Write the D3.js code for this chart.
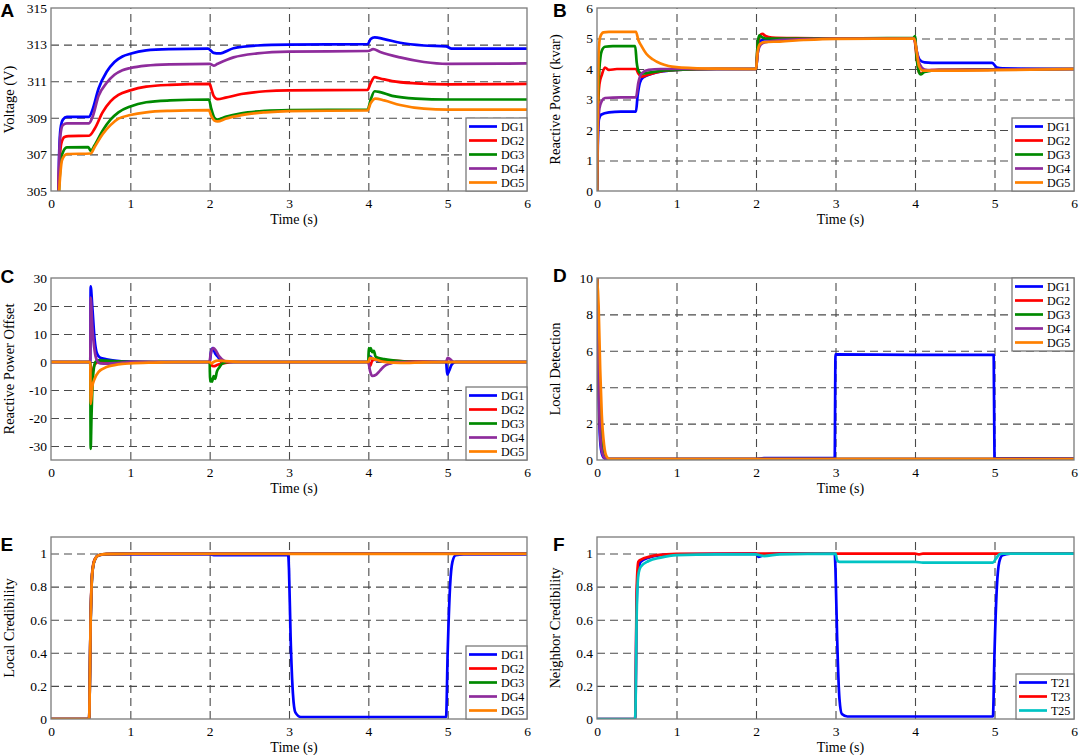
<!DOCTYPE html>
<html>
<head>
<meta charset="utf-8">
<script src="https://cdn.jsdelivr.net/npm/d3@7"></script>
<style>
  body { margin: 0; background: #fff; }
  svg { display: block; }
  text { font-family: "Liberation Serif", "Times New Roman", serif; fill: #000; }
  .letter { font-family: "Liberation Sans", Arial, sans-serif; font-weight: bold; font-size: 19px; }
</style>
</head>
<body>
<div id="chart"></div>
<script>
// ---- data (time in s) ----
const timeTicks = [0, 1, 2, 3, 4, 5, 6];
const voltTicks = [305, 307, 309, 311, 313, 315];
const qTicks = [0, 1, 2, 3, 4, 5, 6];
const offTicks = [-30, -20, -10, 0, 10, 20, 30];
const detTicks = [0, 2, 4, 6, 8, 10];
const credTicks = [0, 0.2, 0.4, 0.6, 0.8, 1];

const dgNames = ['DG1', 'DG2', 'DG3', 'DG4', 'DG5'];
const nbNames = ['T21', 'T23', 'T25'];
const dgColors = ['#0000ff', '#ff0000', '#008a00', '#8e2c9c', '#ff8000'];
const nbColors = ['#0000ff', '#ff0000', '#00c4c4'];

// A: voltage
const voltDG1 = [[0.09,304],[0.1,306.5],[0.12,308.4],[0.15,308.9],[0.2,309.05],[0.48,309.05],[0.52,309.4],[0.6,310.6],[0.7,311.5],[0.8,312.05],[0.9,312.35],[1.0,312.5],[1.2,312.68],[1.5,312.75],[1.98,312.78],[2.05,312.55],[2.12,312.52],[2.3,312.8],[2.6,312.95],[3.0,313.0],[3.99,313.02],[4.03,313.3],[4.08,313.4],[4.2,313.3],[4.4,313.1],[4.7,312.95],[4.98,312.9],[5.05,312.78],[6,312.78]];
const voltDG2 = [[0.09,304],[0.1,305.8],[0.13,307.6],[0.17,307.95],[0.22,308.0],[0.48,308.02],[0.55,308.4],[0.65,309.3],[0.75,309.9],[0.85,310.25],[1.0,310.5],[1.2,310.7],[1.5,310.8],[2.0,310.85],[2.02,310.6],[2.05,310.2],[2.1,310.02],[2.2,310.1],[2.4,310.3],[2.7,310.45],[3.0,310.5],[3.99,310.52],[4.03,310.9],[4.08,311.22],[4.15,311.15],[4.3,311.0],[4.6,310.88],[5.0,310.83],[6,310.85]];
const voltDG3 = [[0.09,304],[0.11,305.8],[0.14,307.0],[0.2,307.38],[0.47,307.4],[0.5,307.2],[0.55,307.5],[0.65,308.3],[0.75,308.9],[0.85,309.3],[1.0,309.62],[1.2,309.85],[1.5,309.95],[1.99,310.0],[2.02,309.5],[2.06,309.0],[2.1,308.9],[2.2,309.05],[2.4,309.25],[2.7,309.38],[3.0,309.42],[3.99,309.45],[4.03,310.0],[4.08,310.45],[4.15,310.4],[4.3,310.2],[4.6,310.05],[5.0,310.0],[6,310.0]];
const voltDG4 = [[0.09,304],[0.1,306.3],[0.12,308.1],[0.15,308.6],[0.2,308.7],[0.48,308.7],[0.52,309.0],[0.6,310.2],[0.7,310.9],[0.8,311.35],[0.9,311.6],[1.0,311.72],[1.2,311.85],[1.5,311.92],[2.0,311.95],[2.05,311.85],[2.1,311.95],[2.3,312.3],[2.6,312.52],[3.0,312.62],[4.0,312.65],[4.06,312.75],[4.15,312.6],[4.4,312.3],[4.7,312.05],[5.0,311.95],[6,311.97]];
const voltDG5 = [[0.09,304],[0.11,305.5],[0.14,306.7],[0.2,307.02],[0.5,307.05],[0.55,307.4],[0.65,308.1],[0.75,308.6],[0.85,308.95],[1.0,309.15],[1.2,309.3],[1.5,309.38],[1.99,309.42],[2.02,309.1],[2.06,308.85],[2.1,308.8],[2.2,308.95],[2.4,309.15],[2.7,309.3],[3.0,309.37],[3.99,309.4],[4.03,309.8],[4.09,310.05],[4.2,309.95],[4.4,309.7],[4.7,309.5],[5.0,309.45],[6,309.45]];

// B: reactive power (kvar)
const qDG1 = [[0,0],[0.01,1.5],[0.025,2.35],[0.05,2.5],[0.15,2.58],[0.3,2.6],[0.49,2.6],[0.51,3.1],[0.54,3.55],[0.58,3.72],[0.7,3.85],[0.85,3.93],[1.0,3.97],[1.5,4.0],[2.0,4.0],[2.02,4.5],[2.05,4.9],[2.1,4.97],[2.3,4.99],[3.0,5.0],[3.99,5.0],[4.02,4.6],[4.06,4.3],[4.12,4.22],[4.3,4.2],[4.97,4.2],[5.03,4.05],[5.1,4.02],[6,4.0]];
const qDG2 = [[0,0],[0.01,2.5],[0.03,3.5],[0.06,3.8],[0.1,4.05],[0.15,3.97],[0.25,4.0],[0.49,4.0],[0.52,3.85],[0.56,3.75],[0.65,3.82],[0.8,3.92],[1.0,3.97],[1.5,4.0],[2.0,4.0],[2.02,4.7],[2.05,5.1],[2.08,5.15],[2.12,5.08],[2.2,5.03],[2.5,5.01],[3,5.0],[3.99,5.0],[4.02,4.4],[4.05,3.9],[4.08,3.85],[4.12,3.93],[4.3,3.97],[5,3.98],[6,4.0]];
const qDG3 = [[0,0],[0.01,2.5],[0.03,4.0],[0.06,4.6],[0.1,4.73],[0.2,4.75],[0.48,4.75],[0.5,4.2],[0.52,3.95],[0.56,3.85],[0.7,3.9],[0.85,3.95],[1.0,3.97],[1.5,4.0],[2.0,4.0],[2.02,4.8],[2.04,5.1],[2.07,5.05],[2.12,5.0],[3,5.0],[3.98,5.02],[4.0,5.08],[4.02,4.4],[4.05,3.9],[4.07,3.82],[4.12,3.9],[4.3,3.96],[5,3.98],[6,4.0]];
const qDG4 = [[0,0],[0.01,1.8],[0.03,2.7],[0.06,2.95],[0.1,3.05],[0.3,3.07],[0.49,3.07],[0.52,3.55],[0.56,3.85],[0.65,3.97],[0.8,4.0],[1.0,4.0],[2.0,4.0],[2.02,4.5],[2.06,4.8],[2.12,4.88],[2.3,4.95],[2.6,4.98],[3,5.0],[3.99,5.0],[4.02,4.6],[4.06,4.15],[4.12,3.98],[4.2,3.96],[5,3.98],[6,4.0]];
const qDG5 = [[0,0],[0.01,2.5],[0.02,4.5],[0.04,5.05],[0.08,5.2],[0.15,5.22],[0.49,5.22],[0.52,4.95],[0.56,4.75],[0.62,4.5],[0.7,4.32],[0.8,4.18],[0.9,4.1],[1.0,4.06],[1.2,4.03],[1.5,4.01],[2.0,4.0],[2.02,4.55],[2.05,4.82],[2.1,4.88],[2.3,4.9],[2.6,4.95],[3,4.99],[3.99,5.0],[4.02,4.6],[4.05,4.1],[4.1,3.95],[4.5,3.95],[5,3.96],[6,4.0]];

// C: reactive power offset
const offDG1 = [[0,0],[0.495,0],[0.5,27],[0.52,20],[0.55,8],[0.58,3],[0.62,1.5],[0.7,1],[0.8,0.5],[1.0,0.1],[1.3,0],[2.0,0],[2.02,4],[2.04,5],[2.07,3],[2.1,2],[2.14,0.5],[2.2,0],[4.0,0],[4.02,2],[4.06,1],[4.12,0.5],[4.3,0],[4.98,0],[4.995,-4.5],[5.02,-3],[5.05,-1],[5.1,0],[6,0]];
const offDG2 = [[0,0],[0.495,0],[0.5,-6],[0.52,-4],[0.55,-1],[0.6,0],[2.0,0],[2.02,-1],[2.05,-1.5],[2.1,-1],[2.2,-0.3],[2.3,0],[4.0,0],[4.02,-1.5],[4.05,0.5],[4.1,1],[4.3,0.5],[4.6,0.1],[5,0],[6,0]];
const offDG3 = [[0,0],[0.495,0],[0.5,-31],[0.51,-20],[0.53,-5],[0.56,0],[0.6,0.6],[0.7,0.5],[0.85,0.2],[1.0,0],[2.0,0],[2.005,-7],[2.02,-6],[2.03,-7],[2.05,-5],[2.07,-6],[2.09,-3.5],[2.12,-2],[2.16,-0.5],[2.25,0],[4.0,0],[4.005,5],[4.02,4],[4.03,5],[4.05,3.5],[4.07,4],[4.09,2],[4.12,1.5],[4.2,1],[4.4,0.3],[4.6,0],[6,0]];
const offDG4 = [[0,0],[0.495,0],[0.5,23],[0.52,13],[0.55,4],[0.58,0.5],[0.62,-0.5],[0.7,-0.6],[0.85,-0.3],[1.0,0],[2.0,0],[2.01,2.5],[2.03,4.5],[2.05,5],[2.08,4],[2.12,2],[2.18,0.5],[2.25,0],[4.0,0],[4.02,-3],[4.05,-5],[4.1,-4.5],[4.15,-3],[4.2,-1.5],[4.28,-0.5],[4.35,0],[4.98,0],[5.0,1.5],[5.03,1],[5.08,0],[6,0]];
const offDG5 = [[0,0],[0.495,0],[0.5,-15],[0.52,-9],[0.55,-6],[0.6,-3.5],[0.7,-1.8],[0.8,-1.1],[0.9,-0.7],[1.0,-0.5],[1.3,-0.2],[1.6,0],[2.0,0],[2.02,-0.5],[2.05,0],[2.1,0.5],[2.2,0.3],[2.4,0],[4.0,0],[4.02,1.5],[4.08,1],[4.2,0],[4.4,-0.3],[4.7,-0.1],[5,0],[6,0]];

// D: local detection
const detDG1 = [[0,10],[0.01,6],[0.03,2],[0.05,0.6],[0.08,0.15],[0.12,0.05],[2.0,0.05],[2.1,0.1],[2.99,0.1],[3.0,5.8],[4.0,5.78],[4.99,5.78],[5.0,0.1],[6,0.08]];
const detDG2 = [[0,10],[0.01,7],[0.03,3],[0.06,0.7],[0.1,0.1],[0.14,0.05],[6,0.05]];
const detDG3 = [[0,10],[0.01,7.2],[0.03,3.2],[0.06,0.8],[0.1,0.12],[0.14,0.05],[6,0.05]];
const detDG4 = [[0,10],[0.01,7],[0.03,2.5],[0.06,0.5],[0.1,0.1],[0.14,0.05],[6,0.05]];
const detDG5 = [[0,10],[0.02,8.5],[0.04,5],[0.06,2.5],[0.09,0.8],[0.12,0.2],[0.16,0.05],[6,0.05]];

// E: local credibility
const credDG1 = [[0,0],[0.48,0],[0.5,0.6],[0.52,0.88],[0.55,0.96],[0.6,0.99],[0.7,0.995],[2.0,0.995],[2.05,0.99],[2.99,0.99],[3.0,0.9],[3.02,0.5],[3.05,0.15],[3.08,0.04],[3.15,0.012],[4.98,0.012],[5.0,0.4],[5.03,0.8],[5.06,0.95],[5.1,0.99],[5.2,0.995],[6,0.995]];
const credDG2 = [[0,0],[0.48,0],[0.5,0.62],[0.52,0.89],[0.55,0.965],[0.6,0.99],[0.7,0.998],[1.0,1.0],[6,1.0]];
const credDG3 = [[0,0],[0.48,0],[0.5,0.6],[0.52,0.88],[0.55,0.96],[0.6,0.99],[0.7,0.997],[1.0,0.999],[6,0.999]];
const credDG4 = [[0,0],[0.48,0],[0.5,0.61],[0.52,0.88],[0.55,0.96],[0.6,0.99],[0.7,0.997],[1.0,1.0],[6,1.0]];
const credDG5 = [[0,0],[0.48,0],[0.5,0.6],[0.52,0.88],[0.55,0.96],[0.6,0.99],[0.7,0.997],[1.0,0.998],[6,0.998]];

// F: neighbor credibility
const nbT21 = [[0,0],[0.48,0],[0.5,0.72],[0.52,0.9],[0.55,0.95],[0.65,0.975],[0.8,0.99],[1.0,0.995],[2.0,1.0],[2.03,0.98],[2.07,0.985],[2.12,0.995],[2.3,1.0],[2.99,1.0],[3.0,0.9],[3.02,0.5],[3.05,0.12],[3.08,0.03],[3.15,0.015],[4.98,0.015],[5.0,0.4],[5.03,0.8],[5.06,0.95],[5.1,0.99],[5.2,1.0],[6,1.0]];
const nbT23 = [[0,0],[0.48,0],[0.5,0.8],[0.52,0.95],[0.56,0.965],[0.65,0.98],[0.75,0.99],[1.0,0.998],[2,1.0],[3,1.0],[4.0,1.0],[4.05,0.995],[4.1,1.0],[5,1.0],[6,1.0]];
const nbT25 = [[0,0],[0.48,0],[0.5,0.65],[0.52,0.87],[0.55,0.92],[0.65,0.955],[0.8,0.975],[1.0,0.99],[1.5,0.995],[2.0,0.995],[2.05,0.99],[2.1,0.985],[2.3,0.995],[3.0,1.0],[3.02,0.96],[3.05,0.95],[4.0,0.95],[4.1,0.945],[4.98,0.945],[5.02,0.97],[5.06,0.995],[5.1,1.0],[6,1.0]];

// ---- layout of the six panels ----
const panels = [
  { letter: 'A', left: 51, right: 527, top: 8, bottom: 191, letterY: 16.5, yDomain: [305, 315], yTicks: voltTicks,
    yLabel: 'Voltage (V)', names: dgNames, colors: dgColors,
    values: [voltDG1, voltDG2, voltDG3, voltDG4, voltDG5], legend: { at: 'bottom', w: 61 } },
  { letter: 'B', left: 597, right: 1074, top: 8, bottom: 191, letterY: 16.5, yDomain: [0, 6], yTicks: qTicks,
    yLabel: 'Reactive Power (kvar)', names: dgNames, colors: dgColors,
    values: [qDG1, qDG2, qDG3, qDG4, qDG5], legend: { at: 'bottom', w: 62 } },
  { letter: 'C', left: 51, right: 527, top: 278, bottom: 460, letterY: 283, yDomain: [-35, 30], yTicks: offTicks,
    yLabel: 'Reactive Power Offset', names: dgNames, colors: dgColors,
    values: [offDG1, offDG2, offDG3, offDG4, offDG5], legend: { at: 'bottom', w: 61 } },
  { letter: 'D', left: 597, right: 1074, top: 278, bottom: 460, letterY: 282, yDomain: [0, 10], yTicks: detTicks,
    yLabel: 'Local Detection', names: dgNames, colors: dgColors,
    values: [detDG1, detDG2, detDG3, detDG4, detDG5], legend: { at: 'top', w: 62 } },
  { letter: 'E', left: 51, right: 527, top: 537, bottom: 719, letterY: 551, yDomain: [0, 1.1], yTicks: credTicks,
    yLabel: 'Local Credibility', names: dgNames, colors: dgColors,
    values: [credDG1, credDG2, credDG3, credDG4, credDG5], legend: { at: 'bottom', w: 61 } },
  { letter: 'F', left: 597, right: 1074, top: 537, bottom: 719, letterY: 551, yDomain: [0, 1.1], yTicks: credTicks,
    yLabel: 'Neighbor Credibility', names: nbNames, colors: nbColors,
    values: [nbT21, nbT23, nbT25], legend: { at: 'bottom', w: 58 } },
];

const rowGap = 14, rowPad = 8.5;   // legend row spacing

const svg = d3.select('#chart').append('svg').attr('width', 1079).attr('height', 755);

panels.forEach((p, pi) => {
  const w = p.right - p.left, h = p.bottom - p.top;
  const x = d3.scaleLinear().domain([0, 6]).range([0, w]);
  const y = d3.scaleLinear().domain(p.yDomain).range([h, 0]);
  const g = svg.append('g').attr('transform', `translate(${p.left},${p.top})`);

  g.append('clipPath').attr('id', 'clip' + pi)
    .append('rect').attr('width', w).attr('height', h);

  // dashed grid
  g.append('g').attr('class', 'grid')
    .attr('transform', `translate(0,${h})`)
    .call(d3.axisBottom(x).tickValues(timeTicks.slice(1, -1)).tickSize(-h).tickFormat(''));
  g.append('g').attr('class', 'grid')
    .call(d3.axisLeft(y).tickValues(p.yTicks.filter(v => v > p.yDomain[0] && v < p.yDomain[1])).tickSize(-w).tickFormat(''));
  g.selectAll('.grid .domain').remove();
  g.selectAll('.grid line').attr('stroke', '#4a4a4a').attr('stroke-width', 1.1).attr('stroke-dasharray', '8,5');

  // tick labels
  const xa = g.append('g').attr('transform', `translate(0,${h})`)
    .call(d3.axisBottom(x).tickValues(timeTicks).tickSize(0).tickPadding(7).tickFormat(d => String(d)));
  const ya = g.append('g')
    .call(d3.axisLeft(y).tickValues(p.yTicks).tickSize(0).tickPadding(4).tickFormat(d => String(d)));
  [xa, ya].forEach(a => {
    a.select('.domain').remove();
    a.selectAll('text').attr('font-family', '"Liberation Serif", serif').attr('font-size', 13.5).attr('fill', '#000');
  });

  // lines
  const line = d3.line().x(d => x(d[0])).y(d => y(d[1])).curve(d3.curveMonotoneX);
  g.append('g').attr('clip-path', `url(#clip${pi})`)
    .selectAll('path').data(p.values).join('path')
    .attr('d', line)
    .attr('fill', 'none')
    .attr('stroke', (d, i) => p.colors[i])
    .attr('stroke-width', 2.7)
    .attr('stroke-linejoin', 'round');

  // box
  g.append('rect').attr('width', w).attr('height', h)
    .attr('fill', 'none').attr('stroke', '#7a7a7a').attr('stroke-width', 1.3);

  // legend
  const L = p.legend;
  const lh = rowPad * 2 + rowGap * (p.names.length - 1);
  const lg = g.append('g')
    .attr('transform', `translate(${w - L.w},${L.at === 'top' ? 0 : h - lh})`);
  lg.append('rect').attr('width', L.w).attr('height', lh)
    .attr('fill', '#fff').attr('stroke', '#7a7a7a').attr('stroke-width', 1.3);
  const items = lg.selectAll('g.item').data(p.names).join('g')
    .attr('transform', (d, i) => `translate(0,${rowPad + i * rowGap})`);
  items.append('line').attr('x1', 3).attr('x2', 31)
    .attr('stroke', (d, i) => p.colors[i]).attr('stroke-width', 2.7);
  items.append('text').attr('x', 35).attr('dy', '0.35em')
    .attr('font-size', 12).text(d => d);

  // axis titles
  g.append('text').attr('x', w / 2 + 5).attr('y', h + 32.5)
    .attr('text-anchor', 'middle').attr('font-size', 14).text('Time (s)');
  g.append('text').attr('transform', `translate(-37.5,${h / 2}) rotate(-90)`)
    .attr('text-anchor', 'middle').attr('font-size', 14.5).text(p.yLabel);

  // panel letter
  svg.append('text').attr('class', 'letter')
    .attr('x', p.left < 300 ? 0.5 : 553)
    .attr('y', p.letterY)
    .text(p.letter);
});
</script>
</body>
</html>
